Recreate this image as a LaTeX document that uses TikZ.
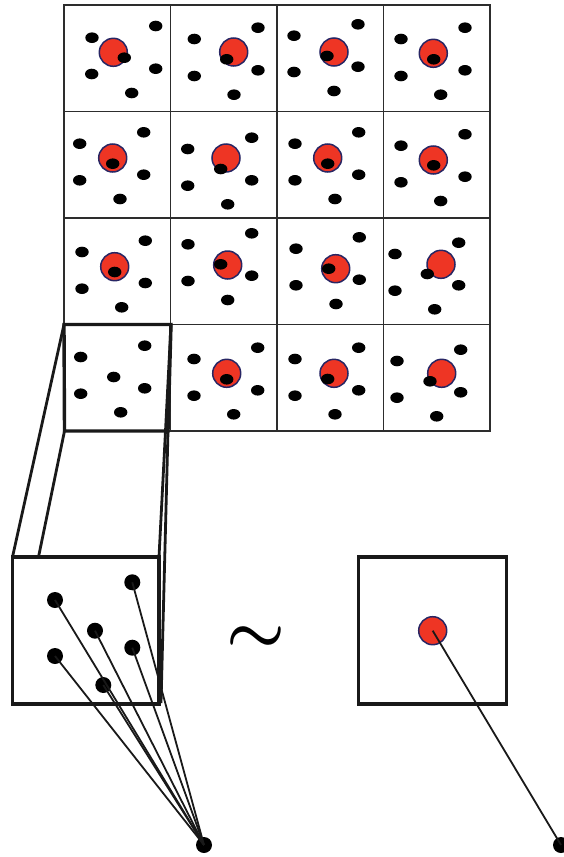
\documentclass[tikz,border=0pt]{standalone}
\usepackage{bm}
\definecolor{myred}{RGB}{238,53,36}
\definecolor{mynavy}{RGB}{40,38,100}
\definecolor{gridgray}{RGB}{45,45,45}
\begin{document}
\begin{tikzpicture}[x=1pt,y=-1pt,
  gridline/.style={draw=gridgray, line width=1.7pt},
  thickline/.style={draw=black!90, line width=3.4pt},
  linkline/.style={draw=black!90, line width=2.8pt},
  reddisc/.style={circle, fill=myred, draw=mynavy, line width=1.5pt, minimum size=28pt, inner sep=0pt},
  fandot/.style={circle, fill=black, minimum size=16pt, inner sep=0pt},
  fanline/.style={draw=black!90, line width=1.8pt},
  tildefont/.style={scale=6.6, inner sep=0pt}]
\useasboundingbox (0,0) rectangle (564,857);
% grid
\draw[gridline] (64,5) rectangle (490,431);
\foreach \x in {170.5,277,383.5} \draw[gridline] (\x,5) -- (\x,431);
\foreach \y in {111.5,218,324.5} \draw[gridline] (64,\y) -- (490,\y);
% red discs in cells
\foreach \x/\y in {113.3/52.3, 233.7/52, 334/52, 433.3/53.3,
                   112.7/158, 226/158, 327.7/158, 433.3/160,
                   114.7/266.7, 227.7/265, 335.7/268.7, 441/264.3,
                   226.7/373.3, 334/373.3, 441.7/373.3}
  \node[reddisc] at (\x,\y) {};
% black ellipses in cells
\foreach \x/\y in {
  92/37.7, 155.7/26, 91.7/74, 155.7/68.7, 131.7/93, 124.3/57.7,
  194.3/39, 258/27.7, 194.3/76, 258/70.3, 234/94.7, 226.7/59.3,
  294/35.7, 358/24.3, 294/72, 358/66.7, 334/91, 327/56,
  401/39, 465/27.7, 401/76, 465/70.3, 440.7/94.7, 433.7/59.3,
  79.7/143.7, 143.7/132.3, 79.7/180.3, 143.7/174.7, 120/199, 112.7/163.7,
  187.7/149, 251.7/137.7, 187.7/185.7, 251.7/180.3, 227.7/204.3, 220.7/169,
  295/143.7, 358.7/132.3, 295/180.3, 358.7/174.7, 335/199, 327.7/163.7,
  401/145.7, 465/134.3, 401/182.3, 465/176.7, 440.7/201, 433.7/165.3,
  82/252, 145.3/240.7, 82/288.7, 145.3/283, 121.7/307.3, 114.7/272,
  188/244.3, 251.7/233.3, 188/281, 251.7/275.7, 227.7/300, 220.7/264.3,
  296/248.7, 359.3/237.3, 296/285.3, 359.3/279.7, 336/304, 328.7/268.7,
  395/254, 458.7/242.7, 395/290.7, 458.7/285.3, 434.7/309.3, 427.3/274,
  80.7/357, 144.7/345.7, 80.7/393.7, 144.7/388.3, 120.7/412.3, 113.7/377,
  194/359, 257.7/347.7, 194/395.7, 257.7/390.3, 233.7/414.3, 226.7/379.3,
  295/359, 358.7/347.7, 295/395.7, 358.7/390.3, 335/414.3, 327.7/379,
  397/361, 460.7/349.7, 397/397.7, 460.7/392.3, 436.7/416.3, 430/381.3}
  \fill (\x,\y) ellipse [x radius=6.7pt, y radius=5.3pt];
% highlighted cell and projection
\coordinate (ctl) at (64,324.5);
\coordinate (ctr) at (171,324.5);
\coordinate (cbl) at (64.5,431);
\coordinate (cbr) at (168,431);
\coordinate (btl) at (12.5,557);
\coordinate (bm) at (38.5,557);
\coordinate (btr) at (159,557);
\coordinate (bbr) at (161,703);
\draw[thickline, line join=miter] (ctl) -- (ctr) -- (cbr) -- (cbl) -- cycle;
\draw[linkline] (ctl) -- (btl);
\draw[linkline] (cbl) -- (bm);
\draw[linkline] (ctr) -- (btr);
\draw[linkline] (cbr) -- (bbr);
\draw[thickline] (12.5,557) rectangle (159,704);
% fan
\node[fandot] (f1) at (55,600) {};
\node[fandot] (f2) at (132.3,582.3) {};
\node[fandot] (f3) at (95,630.7) {};
\node[fandot] (f4) at (132.3,647.7) {};
\node[fandot] (f5) at (55,656) {};
\node[fandot] (f6) at (103.3,685) {};
\node[fandot] (s1) at (204,845) {};
\foreach \nn in {f1,f2,f3,f4,f5,f6}
  \draw[fanline] (\nn.center) -- (s1.center);
% tilde
\node[tildefont] (tl) at (256,640) {$\bm{\sim}$};
% right box
\draw[thickline] (358.5,557) rectangle (506.5,704);
\node[reddisc] (r) at (432.7,630.7) {};
\node[fandot] (s2) at (561,845) {};
\draw[fanline] (r.center) -- (s2.center);
\end{tikzpicture}
\end{document}
